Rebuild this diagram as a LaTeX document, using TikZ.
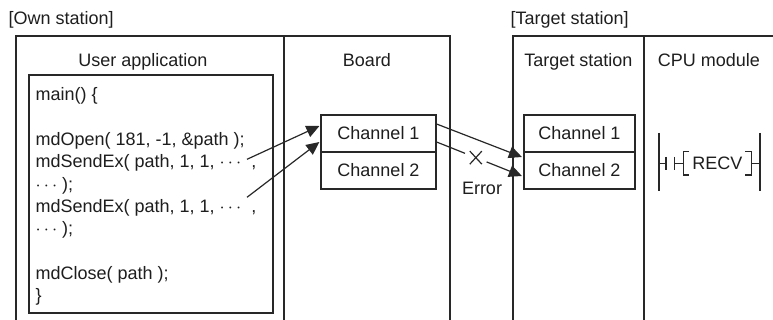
\documentclass[tikz,border=0pt]{standalone}
\usepackage{fontspec}
\setmainfont{Liberation Sans}
\usetikzlibrary{arrows.meta,calc,fit}
\definecolor{linec}{RGB}{40,40,40}
\definecolor{textc}{RGB}{30,30,30}
\begin{document}
\begin{tikzpicture}[x=0.5pt,y=-0.5pt,
  font=\fontsize{9}{11}\selectfont,
  line width=0.6pt,
  panel/.style={draw=linec, inner sep=0pt},
  lbl/.style={anchor=base west, inner sep=0pt, text=textc},
  head/.style={anchor=base, inner sep=0pt, text=textc},
  codeline/.style={anchor=base west, inner sep=0pt, text=textc},
  chan/.style={draw=linec, minimum width=57.5pt, minimum height=18.5pt, inner sep=0pt, text=textc},
  tchan/.style={chan, minimum width=55.5pt},
  arr/.style={draw=linec, -{Triangle[length=6.5pt,width=6pt]}},
  thin line/.style={draw=linec, line width=0.6pt}]
\useasboundingbox (0,0) rectangle (773,320);
\clip (0,0) rectangle (773,320);
\fill[white] (0,0) rectangle (773,320);

% station labels
\node[lbl] (ownlbl) at (8,25) {[Own station]};
\node[lbl] (tgtlbl) at (510,25) {[Target station]};

% panels
\node[panel, fit={(16,36) (284,330)}] (app) {};
\node[panel, fit={(284,36) (450,330)}] (board) {};
\node[panel, fit={(513,36) (644,330)}] (tgt) {};
\node[panel, fit={(644,36) (780,330)}] (cpu) {};

% headings
\node[head] (apphead) at (143,67) {User application};
\node[head] (boardhead) at (367,67) {Board};
\node[head] (tgthead) at (578.5,67) {Target station};
\node[head] (cpuhead) at (709,67) {CPU module};

% code box
\node[panel, fit={(29,75) (273,313)}] (code) {};
\node[codeline] (l0) at (35,101) {main() \{};
\node[codeline] (l2) at (35,145.6) {mdOpen( 181, -1, \&path );};
\node[codeline] (l3) at (35,167.9) {mdSendEx( path, 1, 1, $\cdots$\hspace{5pt},};
\node[codeline] (l4) at (35,190.2) {$\cdots$ );};
\node[codeline] (l5) at (35,212.5) {mdSendEx( path, 1, 1, $\cdots$\hspace{5pt},};
\node[codeline] (l6) at (35,234.8) {$\cdots$ );};
\node[codeline] (l8) at (35,279.4) {mdClose( path );};
\node[codeline] (l9) at (35,301.7) {\}};

% channels
\node[chan] (bc1) at (378.5,133.5) {Channel 1};
\node[chan] (bc2) at (378.5,170.5) {Channel 2};
\node[tchan] (tc1) at (579.5,133.5) {Channel 1};
\node[tchan] (tc2) at (579.5,170.5) {Channel 2};

% arrows from the code
\coordinate (s1) at (247,159.3);
\coordinate (s2) at (247,197.3);
\draw[arr] (s1) -- ($(bc1.west)+(-1,-7.5)$);
\draw[arr] (s2) -- ($(bc1.west)+(-1,8.5)$);

% arrows to the target station
\draw[arr] ($(bc1.east)+(0,-9.5)$) -- ($(tc2.west)+(-1.5,-13.5)$);
\coordinate (e4s) at ($(bc1.east)+(0,8.5)$);
\coordinate (e4t) at ($(tc2.west)+(-1.5,5.5)$);
\coordinate (g1) at ($(e4s)!0.333!(e4t)$);
\coordinate (g2) at ($(e4s)!0.586!(e4t)$);
\coordinate (xc) at ($(e4s)!0.46!(e4t)$);
\draw[thin line] (e4s) -- (g1);
\draw[arr] (g2) -- (e4t);
\draw[thin line] ($(xc)+(-6,-6.5)$) -- ($(xc)+(6,6.5)$);
\draw[thin line] ($(xc)+(-6,6.5)$) -- ($(xc)+(6,-6.5)$);
\node[head] (err) at (482,195) {Error};

% ladder in CPU module
\coordinate (rl1) at (659,133);
\coordinate (rl2) at (659,191);
\coordinate (rr1) at (760,133);
\coordinate (rr2) at (760,191);
\draw[thin line] (rl1) -- (rl2);
\draw[thin line] (rr1) -- (rr2);
\node[inner sep=0pt, text=textc] (recv) at (717.5,163.5) {RECV};
\draw[thin line] (659,163.5) -- (666,163.5);
\draw[thin line] (666,157) -- (666,170);
\draw[thin line] (674.5,157) -- (674.5,170);
\draw[thin line] (674.5,163.5) -- (683.5,163.5);
\draw[thin line] (689,151.5) -- (683.5,151.5) -- (683.5,175) -- (689,175);
\draw[thin line] (745,151.5) -- (751.5,151.5) -- (751.5,175) -- (745,175);
\draw[thin line] (751.5,163.5) -- (760,163.5);
\end{tikzpicture}
\end{document}
